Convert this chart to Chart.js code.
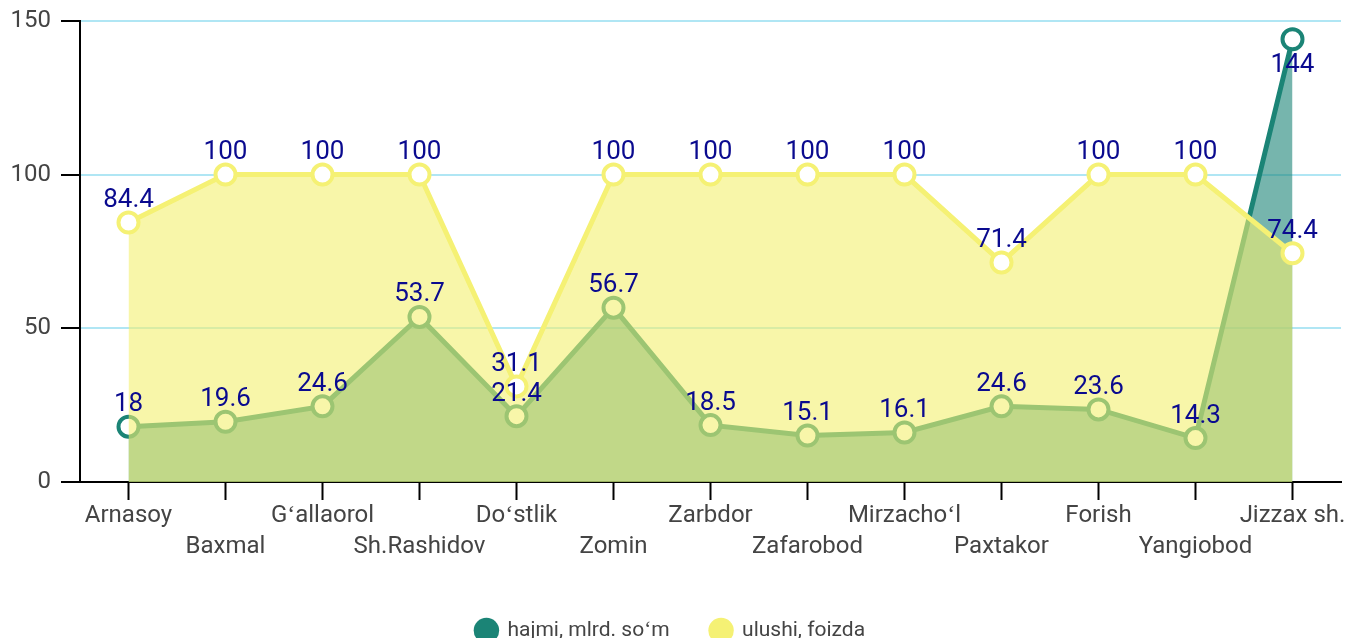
<!DOCTYPE html>
<html>
<head>
<meta charset="utf-8">
<script src="https://cdn.jsdelivr.net/npm/chart.js@4"></script>
<style>
  html, body { margin: 0; padding: 0; background: #fff; overflow: hidden; }
  #wrap { width: 1349px; height: 638px; }
</style>
</head>
<body>
<div id="wrap"><canvas id="chart"></canvas></div>
<script>
// districts of Jizzax region
const districts = ['Arnasoy', 'Baxmal', 'Gʻallaorol', 'Sh.Rashidov', 'Doʻstlik', 'Zomin', 'Zarbdor',
    'Zafarobod', 'Mirzachoʻl', 'Paxtakor', 'Forish', 'Yangiobod', 'Jizzax sh.'];
const hajmi = [18, 19.6, 24.6, 53.7, 21.4, 56.7, 18.5, 15.1, 16.1, 24.6, 23.6, 14.3, 144];
const ulushi = [84.4, 100, 100, 100, 31.1, 100, 100, 100, 100, 71.4, 100, 100, 74.4];
const yTicks = [0, 50, 100, 150];

const TEAL = '#1b8476';
const YELLOW = '#f5f174';

// value labels above the points (144 goes below, it is near the top)
const valueLabels = {
    id: 'valueLabels',
    afterDatasetsDraw(chart) {
        const ctx = chart.ctx;
        ctx.save();
        ctx.font = '26px Roboto';
        ctx.fillStyle = '#0a0a8f';
        ctx.textAlign = 'center';
        ctx.textBaseline = 'middle';
        chart.data.datasets.forEach((ds, di) => {
            const meta = chart.getDatasetMeta(di);
            meta.data.forEach((pt, i) => {
                const v = ds.data[i];
                const dy = v > 130 ? 26 : -22;
                ctx.fillText(String(v), pt.x, pt.y + dy);
            });
        });
        ctx.restore();
    }
};

new Chart(document.getElementById('chart').getContext('2d'), {
    type: 'line',
    data: {
        labels: districts,
        datasets: [
            {
                label: 'hajmi, mlrd. soʻm',
                data: hajmi,
                borderColor: TEAL,
                backgroundColor: 'rgba(27,132,118,0.6)',
                borderWidth: 5,
                fill: 'origin',
                tension: 0,
                pointRadius: 10,
                pointBorderWidth: 4,
                pointBackgroundColor: '#fff',
                pointBorderColor: TEAL,
                order: 1
            },
            {
                label: 'ulushi, foizda',
                data: ulushi,
                borderColor: YELLOW,
                backgroundColor: 'rgba(244,240,112,0.6)',
                borderWidth: 5,
                fill: 'origin',
                tension: 0,
                pointRadius: 10,
                pointBorderWidth: 4,
                pointBackgroundColor: '#fff',
                pointBorderColor: YELLOW,
                order: 0
            }
        ]
    },
    options: {
        responsive: true,
        maintainAspectRatio: false,
        animation: false,
        events: [],
        layout: {
            autoPadding: false,
            // legend padding is wide for item spacing, let it hang a bit below the canvas
            padding: { top: 19, right: 8, left: 0, bottom: -13 }
        },
        scales: {
            x: {
                offset: true,
                grid: {
                    drawOnChartArea: false,
                    drawTicks: true,
                    tickLength: 18,
                    tickColor: '#000',
                    tickWidth: 2
                },
                border: { color: '#000', width: 2 },
                ticks: {
                    autoSkip: false,
                    maxRotation: 0,
                    padding: 0,
                    color: '#444',
                    font: { family: 'Roboto', size: 24, lineHeight: 1.3 },
                    callback: function(value, index) {
                        return index % 2 ? ['', districts[index]] : districts[index];
                    }
                },
                afterFit: function(scale) {
                    scale.height = 97;
                    scale.paddingLeft = 0;
                    scale.paddingRight = 0;
                }
            },
            y: {
                min: 0,
                max: 150,
                afterBuildTicks: function(scale) {
                    scale.ticks = yTicks.map(v => ({ value: v }));
                },
                grid: {
                    color: '#b0e6f4',
                    lineWidth: 2,
                    tickLength: 19,
                    tickColor: '#000',
                    tickWidth: 2
                },
                border: { color: '#000', width: 2 },
                ticks: {
                    padding: 10,
                    color: '#444',
                    font: { family: 'Roboto', size: 24, lineHeight: 0.9 }
                },
                afterFit: function(scale) {
                    scale.width = 80;
                }
            }
        },
        plugins: {
            legend: {
                position: 'bottom',
                labels: {
                    usePointStyle: true,
                    pointStyle: 'circle',
                    boxWidth: 24,
                    boxHeight: 18,
                    padding: 41,
                    color: '#444',
                    font: { family: 'Roboto', size: 21 },
                    sort: (a, b) => a.datasetIndex - b.datasetIndex,
                    generateLabels: function(chart) {
                        const items = Chart.defaults.plugins.legend.labels.generateLabels(chart);
                        items.forEach(item => {
                            const solid = item.datasetIndex === 0 ? TEAL : YELLOW;
                            item.fillStyle = solid;
                            item.strokeStyle = solid;
                            item.lineWidth = 0;
                        });
                        return items;
                    }
                }
            },
            tooltip: { enabled: false }
        }
    },
    plugins: [valueLabels]
});
</script>
</body>
</html>
